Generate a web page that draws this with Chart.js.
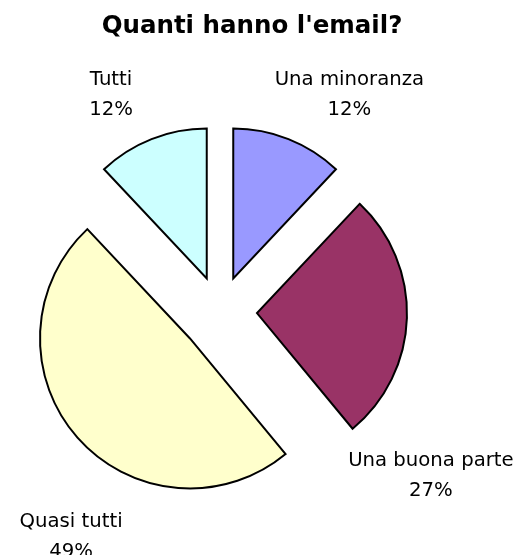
<!DOCTYPE html>
<html>
<head>
<meta charset="utf-8">
<script src="https://cdn.jsdelivr.net/npm/chart.js@4/dist/chart.umd.min.js"></script>
<style>
  body { margin: 0; background: #fff; }
  .chart-box { width: 516px; height: 555px; position: relative; }
</style>
</head>
<body>
<div class="chart-box"><canvas id="myChart"></canvas></div>
<script>
const categories = ['Una minoranza', 'Una buona parte', 'Quasi tutti', 'Tutti'];
const values = [12, 27, 49, 12];
const colors = ['#9999FF', '#993366', '#FFFFCC', '#CCFFFF'];

// how far each slice is pulled out, px
const explode = [36, 37, 40, 36];
// label placement: degrees clockwise from top, distance from pie centre
const labelAngle = [30.8, 127.8, 213.5, 333.4];
const labelDist = [252.7, 266.9, 269.9, 243.3];

const fontFamily = "'DejaVu Sans', Verdana, sans-serif";

const explodePlugin = {
  id: 'explode',
  beforeDatasetDraw(chart, args) {
    const ctx = chart.ctx;
    args.meta.data.forEach((arc, i) => {
      const mid = (arc.startAngle + arc.endAngle) / 2;
      ctx.save();
      ctx.translate(Math.cos(mid) * explode[i], Math.sin(mid) * explode[i]);
      arc.draw(ctx, chart.chartArea);
      ctx.restore();
    });
    return false;
  },
};

const textPlugin = {
  id: 'pieText',
  afterDraw(chart) {
    const ctx = chart.ctx;
    const arcs = chart.getDatasetMeta(0).data;
    const total = values.reduce((a, b) => a + b, 0);
    ctx.save();
    ctx.fillStyle = '#000';
    ctx.textAlign = 'center';

    ctx.font = 'bold 24.5px ' + fontFamily;
    ctx.textBaseline = 'alphabetic';
    ctx.fillText("Quanti hanno l'email?", 252, 33);

    ctx.font = '19.7px ' + fontFamily;
    ctx.textBaseline = 'middle';
    arcs.forEach((arc, i) => {
      const a = labelAngle[i] * Math.PI / 180;
      const x = arc.x + labelDist[i] * Math.sin(a);
      const y = arc.y - labelDist[i] * Math.cos(a);
      const pct = Math.round(values[i] / total * 100) + '%';
      ctx.fillText(categories[i], x, y - 15);
      ctx.fillText(pct, x, y + 15);
    });
    ctx.restore();
  },
};

const ctx = document.getElementById('myChart');

new Chart(ctx, {
  type: 'pie',
  plugins: [explodePlugin, textPlugin],
  data: {
    labels: categories,
    datasets: [
      {
        data: values,
        backgroundColor: colors,
        borderColor: '#000',
        borderWidth: 2,
        borderJoinStyle: 'miter',
      },
    ],
  },
  options: {
    responsive: true,
    maintainAspectRatio: false,
    animation: false,
    events: [],
    radius: 150,
    layout: {
      padding: { left: 0, right: 76, top: 80, bottom: 11 },
    },
    plugins: {
      legend: { display: false },
      title: { display: false },
      tooltip: { enabled: false },
    },
  },
});
</script>
</body>
</html>
